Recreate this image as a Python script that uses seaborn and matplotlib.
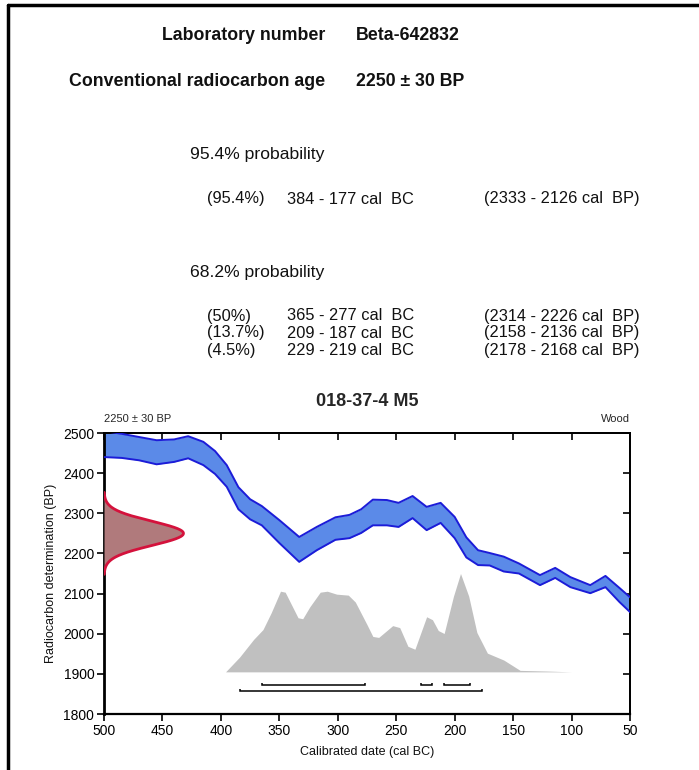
import numpy as np
import pandas as pd
import matplotlib
matplotlib.use("Agg")
import matplotlib.pyplot as plt
from matplotlib.lines import Line2D
import seaborn as sns

# ---- sample data ----
lab_number = "Beta-642832"
c14_age = 2250
c14_err = 30

ranges_95_pct = ["(95.4%)"]
ranges_95_bc = ["384 - 177 cal  BC"]
ranges_95_bp = ["(2333 - 2126 cal  BP)"]

ranges_68_pct = ["(50%)", "(13.7%)", "(4.5%)"]
ranges_68_bc = ["365 - 277 cal  BC", "209 - 187 cal  BC", "229 - 219 cal  BC"]
ranges_68_bp = ["(2314 - 2226 cal  BP)", "(2158 - 2136 cal  BP)", "(2178 - 2168 cal  BP)"]

# calibration curve envelope (cal BC vs radiocarbon BP)
curve_cal = [500, 485, 470, 455, 440, 428, 415, 405, 395, 385, 375, 365, 350,
             333, 318, 302, 290, 280, 270, 258, 248, 236, 224, 212, 200, 190,
             180, 170, 158, 145, 127, 114, 101, 84, 71, 59, 50]
curve_upper = [2505, 2498, 2490, 2482, 2484, 2492, 2478, 2455, 2420, 2365, 2335, 2318, 2283,
               2241, 2266, 2290, 2296, 2310, 2334, 2333, 2326, 2343, 2316, 2326, 2291, 2240,
               2208, 2201, 2192, 2175, 2146, 2164, 2141, 2121, 2144, 2114, 2091]
curve_lower = [2440, 2438, 2432, 2422, 2428, 2437, 2420, 2398, 2366, 2310, 2285, 2270, 2226,
               2179, 2208, 2234, 2238, 2251, 2270, 2270, 2266, 2288, 2258, 2276, 2238, 2190,
               2171, 2170, 2155, 2150, 2121, 2139, 2116, 2101, 2116, 2079, 2054]

# calibrated probability (relative, peak = 1)
prob_cal = [396, 384, 372, 364, 357, 349, 345, 334, 330, 324, 315, 309, 301,
            291, 285, 275, 270, 265, 253, 247, 240, 234, 224, 219, 214, 209,
            201, 195, 188, 181, 172, 158, 144, 120, 100]
prob_rel = [0.0, 0.15, 0.33, 0.43, 0.60, 0.82, 0.81, 0.55, 0.54, 0.66, 0.81, 0.82, 0.79,
            0.78, 0.71, 0.48, 0.36, 0.35, 0.47, 0.45, 0.26, 0.23, 0.56, 0.53, 0.42, 0.39,
            0.77, 1.0, 0.77, 0.40, 0.19, 0.12, 0.015, 0.008, 0.0]

# highest probability ranges (cal BC) shown as brackets
bracket95 = [(384, 177)]
bracket68 = [(365, 277), (209, 187), (229, 219)]

plot_title = "018-37-4 M5"
material = "Wood"

# ---- styling ----
sns.set_theme(style="white")
plt.rcParams["font.family"] = ["Liberation Sans", "DejaVu Sans"]
plt.rcParams["lines.solid_joinstyle"] = "round"
plt.rcParams["lines.solid_capstyle"] = "round"

fig = plt.figure(figsize=(6.99, 7.70), dpi=100)

def fx(px):
    return px / 699.0

def fy(py):
    return 1 - py / 770.0

# page frame (top and left edges)
fig.add_artist(Line2D([fx(8), fx(8)], [0, fy(5)], color="black", lw=2.5, transform=fig.transFigure))
fig.add_artist(Line2D([fx(8), 1], [fy(5), fy(5)], color="black", lw=2.5, transform=fig.transFigure))

# header block
hdr = dict(va="center", fontsize=12.75, fontweight="bold", color="#111111")
fig.text(fx(325), fy(36), "Laboratory number", ha="right", **hdr)
fig.text(fx(356), fy(36), lab_number, ha="left", **hdr)
fig.text(fx(325), fy(82), "Conventional radiocarbon age", ha="right", **hdr)
fig.text(fx(356), fy(82), f"{c14_age} \u00b1 {c14_err} BP", ha="left", **hdr)

row = dict(ha="left", va="center", fontsize=11.8, color="#111111")
fig.text(fx(190), fy(155), "95.4% probability", ha="left", va="center", fontsize=12.6, color="#111111")
for i, (p, bc, bp) in enumerate(zip(ranges_95_pct, ranges_95_bc, ranges_95_bp)):
    y = fy(199 + 17 * i)
    fig.text(fx(207), y, p, **row)
    fig.text(fx(287), y, bc, **row)
    fig.text(fx(484), y, bp, **row)

fig.text(fx(190), fy(272), "68.2% probability", ha="left", va="center", fontsize=12.6, color="#111111")
for i, (p, bc, bp) in enumerate(zip(ranges_68_pct, ranges_68_bc, ranges_68_bp)):
    y = fy(316 + 17 * i)
    fig.text(fx(207), y, p, **row)
    fig.text(fx(287), y, bc, **row)
    fig.text(fx(484), y, bp, **row)

# ---- calibration plot ----
ax = fig.add_axes([fx(104), fy(714), fx(630) - fx(104), fy(433) - fy(714)])
ax.set_xlim(500, 50)
ax.set_ylim(1800, 2500)

curve = pd.DataFrame({"cal": curve_cal, "upper": curve_upper, "lower": curve_lower})
ax.fill_between(curve["cal"], curve["lower"], curve["upper"], color="#5b8ae8", lw=0, zorder=2)
sns.lineplot(data=curve, x="cal", y="upper", ax=ax, color="#1c1cd8", lw=1.4, zorder=3)
sns.lineplot(data=curve, x="cal", y="lower", ax=ax, color="#1c1cd8", lw=1.4, zorder=3)

# calibrated probability distribution along the date axis
prob_base = 1905
prob_scale = 245
prob = pd.DataFrame({"cal": prob_cal, "p": np.array(prob_rel) * prob_scale + prob_base})
ax.fill_between(prob["cal"], prob_base, prob["p"], color="#c0c0c0", lw=0, zorder=1)

# radiocarbon measurement as a normal curve on the BP axis
bp = np.linspace(c14_age - 3.4 * c14_err, c14_age + 3.4 * c14_err, 200)
dens = np.exp(-0.5 * ((bp - c14_age) / c14_err) ** 2)
gauss = pd.DataFrame({"bp": bp, "x": 500 - dens * 68})
ax.fill_betweenx(gauss["bp"], 500, gauss["x"], color="#b07a7c", lw=0, zorder=4)
sns.lineplot(data=gauss, x="x", y="bp", ax=ax, color="#d4123c", lw=2,
             sort=False, estimator=None, orient="y", zorder=5)

# probability range brackets
def bracket(a, b, y, h=5):
    ax.plot([a, a, b, b], [y + h, y, y, y + h], color="black", lw=1.1, zorder=3,
            solid_joinstyle="miter", solid_capstyle="butt")

for a, b in bracket95:
    bracket(a, b, 1857)
for a, b in bracket68:
    bracket(a, b, 1871)

ax.set_xticks(np.arange(500, 49, -50))
ax.set_yticks(np.arange(1800, 2501, 100))
ax.tick_params(axis="both", which="major", direction="out", length=5, width=1.2,
               labelsize=10, colors="black", pad=2, bottom=True, left=True)
for s in ax.spines.values():
    s.set_visible(True)
    s.set_color("black")
    s.set_linewidth(1.4)
ax.spines["left"].set_linewidth(2)
ax.spines["bottom"].set_linewidth(1.6)

top = ax.secondary_xaxis("top")
top.set_xticks(np.arange(500, 49, -50))
top.tick_params(direction="in", length=5, width=1.2, labeltop=False, colors="black")
right = ax.secondary_yaxis("right")
right.set_yticks(np.arange(1800, 2501, 100))
right.tick_params(direction="in", length=5, width=1.2, labelright=False, colors="black")

ax.set_xlabel("Calibrated date (cal BC)", fontsize=9, labelpad=6, color="#111111")
ax.set_ylabel("Radiocarbon determination (BP)", fontsize=9, labelpad=4, color="#111111")

fig.text(fx(367), fy(401), plot_title, ha="center", va="center", fontsize=13, fontweight="bold")
fig.text(fx(104), fy(419), f"{c14_age} \u00b1 {c14_err} BP", ha="left", va="center", fontsize=8)
fig.text(fx(630), fy(419), material, ha="right", va="center", fontsize=8)

fig.savefig("out.png", dpi=100)
